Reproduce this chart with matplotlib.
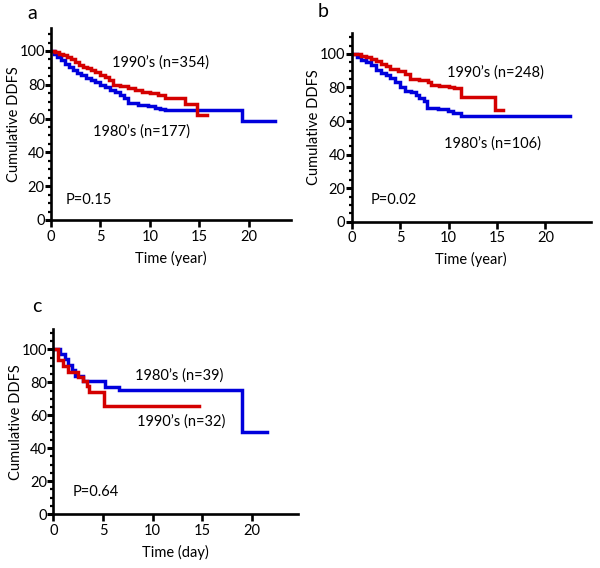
import matplotlib
matplotlib.use("Agg")
import matplotlib.pyplot as plt
from matplotlib.ticker import MultipleLocator

plt.rcParams['font.family'] = ['Lato', 'DejaVu Sans']

RED = '#d40000'
BLUE = '#0000dc'

# panel a (years)
a_t_90 = [0, 0.4, 0.8, 1.2, 1.6, 2.0, 2.4, 2.8, 3.2, 3.6, 4.0, 4.5, 5.0, 5.5, 5.9, 6.3,
          7.0, 7.8, 8.5, 9.2, 10.0, 10.8, 11.5, 13.6, 14.8, 15.8]
a_s_90 = [100, 99.5, 98.5, 97.5, 96.3, 95, 93.5, 92, 90.7, 89.7, 88.8, 87.5, 86, 84.5, 83, 80,
          79, 78.3, 77.2, 76, 75, 74, 72, 68.5, 62, 62]
a_t_80 = [0, 0.3, 0.6, 1.0, 1.4, 1.8, 2.2, 2.6, 3.0, 3.5, 4.0, 4.5, 5.0, 5.5, 6.0, 6.5,
          7.0, 7.4, 7.8, 8.8, 9.8, 10.5, 11.0, 11.5, 19.3, 22.7]
a_s_80 = [100, 98.5, 96.5, 94.5, 92.5, 90.5, 88.5, 87, 85.5, 84, 82.8, 81.5, 80, 78.5, 77, 75.5,
          74, 72, 69, 68.2, 67.5, 66.5, 65.8, 65.1, 58.5, 58.5]

# panel b (years)
b_t_90 = [0, 1.0, 1.5, 2.0, 2.5, 3.0, 3.5, 4.0, 4.8, 5.5, 6.0, 7.0, 7.9, 8.2, 9.0, 10.0,
          10.6, 11.3, 14.8, 15.6]
b_s_90 = [100, 99, 98, 96.8, 95.5, 94, 92.5, 91.3, 89.8, 88.3, 85, 84.5, 83, 81.5, 81, 80.5,
          79.5, 74.5, 66.5, 66.5]
b_t_80 = [0, 0.6, 1.0, 1.5, 2.0, 2.5, 3.0, 3.5, 4.0, 4.5, 5.0, 5.5, 6.1, 6.6, 7.0, 7.5,
          7.8, 8.9, 9.9, 10.5, 11.3, 22.5]
b_s_80 = [100, 98, 96.6, 95, 93.6, 90.5, 88.5, 87.5, 85.5, 83.5, 80.5, 78, 77.5, 75.7, 74, 72,
          68, 67, 65.8, 64.5, 63, 63]

# panel c (days)
c_t_80 = [0, 0.7, 1.2, 1.5, 1.85, 2.2, 3.0, 5.2, 6.65, 19.0, 21.5]
c_s_80 = [100, 97, 94, 90.5, 87.5, 84, 80.5, 77.3, 75.2, 50, 50]
c_t_90 = [0, 0.5, 1.0, 1.5, 2.5, 3.0, 3.4, 3.6, 5.1, 14.7]
c_s_90 = [100, 93.5, 90, 86.5, 83.5, 80.5, 77.5, 74.2, 65.6, 65.6]


def panel(fig, rect, xmax, ymax, blue, red, texts, xlabel):
    ax = fig.add_axes(rect)
    ax.step(blue[0], blue[1], where='post', color=BLUE, lw=2.5, solid_joinstyle='miter')
    ax.step(red[0], red[1], where='post', color=RED, lw=2.5, solid_joinstyle='miter')
    for x, y, s in texts:
        ax.text(x, y, s, ha='center', va='center', fontsize=10.5)
    ax.set_xlim(0, xmax)
    ax.set_ylim(0, ymax)
    for side in ['top', 'right']:
        ax.spines[side].set_visible(False)
    for side in ['left', 'bottom']:
        ax.spines[side].set_linewidth(1.9)
    ax.set_xticks([0, 5, 10, 15, 20])
    ax.set_yticks([0, 20, 40, 60, 80, 100])
    ax.yaxis.set_minor_locator(MultipleLocator(5))
    ax.tick_params(axis='y', which='major', length=4, width=2.2, pad=0.5, labelsize=10.5)
    ax.tick_params(axis='y', which='minor', length=2, width=1.6)
    ax.tick_params(axis='x', which='major', length=5, width=1.9, pad=2, labelsize=10.5)
    ax.set_ylabel('Cumulative DDFS', fontsize=10.5, labelpad=-1)
    ax.set_xlabel(xlabel, fontsize=10.5, labelpad=5)
    return ax


fig = plt.figure(figsize=(6, 5.68), dpi=100)

panel(fig, [0.085, 0.6127, 0.40, 0.338], 24.3, 113.6,
      (a_t_80, a_s_80), (a_t_90, a_s_90),
      [(11.05, 92.9, "1990\u2019s (n=354)"), (9.2, 52.2, "1980\u2019s (n=177)"),
       (3.85, 11.8, "P=0.15")], 'Time (year)')
panel(fig, [0.586, 0.6097, 0.399, 0.3323], 24.7, 112.5,
      (b_t_80, b_s_80), (b_t_90, b_s_90),
      [(14.8, 88.8, "1990\u2019s (n=248)"), (14.5, 46.3, "1980\u2019s (n=106)"),
       (4.4, 12.9, "P=0.02")], 'Time (year)')
panel(fig, [0.089, 0.095, 0.407, 0.325], 24.6, 112.1,
      (c_t_80, c_s_80), (c_t_90, c_s_90),
      [(12.7, 84.4, "1980\u2019s (n=39)"), (12.9, 56.0, "1990\u2019s (n=32)"),
       (4.3, 13.4, "P=0.64")], 'Time (day)')

fig.text(0.053, 0.9766, 'a', fontsize=14, ha='center', va='center')
fig.text(0.538, 0.979, 'b', fontsize=14, ha='center', va='center')
fig.text(0.061, 0.46, 'c', fontsize=14, ha='center', va='center')

fig.savefig('out.png', dpi=100)
